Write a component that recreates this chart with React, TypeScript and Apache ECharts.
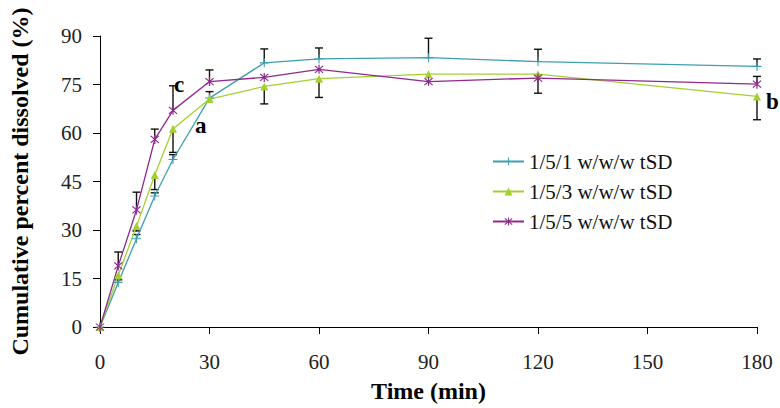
import React, { useEffect, useRef } from "react";
import * as echarts from "echarts";

const times = [0, 5, 10, 15, 20, 30, 45, 60, 90, 120, 180];
const seriesNames = ["1/5/1 w/w/w tSD", "1/5/3 w/w/w tSD", "1/5/5 w/w/w tSD"];
const s1 = [0, 13.8, 27.3, 40.5, 51.8, 70.8, 81.7, 82.9, 83.3, 82.1, 80.6];
const s3 = [0, 16.0, 31.2, 47.0, 61.3, 70.5, 74.4, 76.8, 78.2, 78.2, 71.3];
const s5 = [0, 18.9, 36.2, 58.0, 67.0, 75.9, 77.2, 79.7, 75.9, 77.0, 75.1];
// error bar lengths (plus = drawn upward, minus = drawn downward)
const s1Plus = [0, 0.8, 1.3, 1.0, 1.5, 2.0, 4.3, 3.4, 6.0, 3.8, 2.3];
const s3Minus = [0, 0, 1.5, 4.5, 7.3, 0, 5.4, 5.8, 0, 5.9, 7.2];
const s5Plus = [0, 4.3, 5.5, 3.2, 7.6, 3.6, 0, 0, 0, 0, 2.4];
const xTicks = [0, 30, 60, 90, 120, 150, 180];
const yTicks = [0, 15, 30, 45, 60, 75, 90];

const FONT = '"Liberation Serif", "Times New Roman", serif';
const COLORS = ["#3c9fb0", "#a5cf2f", "#8e2a8e"];

const PLUS_PATH = "path://M0,4.4H10V5.6H0Z M4.4,0H5.6V10H4.4Z";
const TRI_PATH = "triangle";
const STAR_PATH =
  "path://M4.4,0H5.6V10H4.4Z M0.7,1.5L1.5,0.7L9.3,8.5L8.5,9.3Z M8.5,0.7L9.3,1.5L1.5,9.3L0.7,8.5Z";

export default function App() {
  const ref = useRef<HTMLDivElement>(null);
  useEffect(() => {
    if (!ref.current) return;
    document.body.style.margin = "0";
    const chart = echarts.init(ref.current, null, { renderer: "svg" });

    const errData: number[][] = [];
    times.forEach((t, i) => {
      if (s1Plus[i] > 0) errData.push([t, s1[i], s1[i] + s1Plus[i]]);
      if (s3Minus[i] > 0) errData.push([t, s3[i], s3[i] - s3Minus[i]]);
      if (s5Plus[i] > 0) errData.push([t, s5[i], s5[i] + s5Plus[i]]);
    });

    const vals = [s1, s3, s5];
    const symbols = [PLUS_PATH, TRI_PATH, STAR_PATH];
    const sizes = [9, 8, 9];

    const lineSeries = vals.map((v, k) => ({
      type: "line",
      name: seriesNames[k],
      data: times.map((t, i) => [t, v[i]]),
      symbol: symbols[k],
      symbolSize: sizes[k],
      showSymbol: true,
      lineStyle: { color: COLORS[k], width: 1.3 },
      itemStyle: { color: COLORS[k] },
      z: 3,
    }));

    chart.setOption({
      animation: false,
      backgroundColor: "#ffffff",
      grid: { left: 96, right: 23, top: 36, bottom: 80, containLabel: false },
      legend: {
        data: seriesNames,
        orient: "vertical",
        left: 487,
        top: 146,
        itemWidth: 31,
        itemHeight: 10,
        itemGap: 9,
        textStyle: { fontFamily: FONT, fontSize: 21, color: "#111" },
      },
      xAxis: {
        type: "value",
        min: 0,
        max: 180,
        interval: 30,
        name: "Time (min)",
        nameLocation: "middle",
        nameGap: 52,
        nameTextStyle: { fontFamily: FONT, fontSize: 24, fontWeight: "bold", color: "#000" },
        axisLine: { lineStyle: { color: "#000", width: 1 } },
        axisTick: { show: true, inside: false, length: 7, lineStyle: { color: "#000" } },
        axisLabel: {
          margin: 24,
          fontFamily: FONT,
          fontSize: 21,
          color: "#222",
          formatter: (v: number) => (xTicks.includes(v) ? String(v) : ""),
        },
        splitLine: { show: false },
      },
      yAxis: {
        type: "value",
        min: 0,
        max: 90,
        interval: 15,
        name: "Cumulative percent dissolved (%)",
        nameLocation: "middle",
        nameGap: 68,
        nameTextStyle: { fontFamily: FONT, fontSize: 24, fontWeight: "bold", color: "#000" },
        axisLine: { show: true, lineStyle: { color: "#000", width: 1 } },
        axisTick: { show: true, inside: false, length: 7, lineStyle: { color: "#000" } },
        axisLabel: {
          margin: 18,
          fontFamily: FONT,
          fontSize: 21,
          color: "#222",
          formatter: (v: number) => (yTicks.includes(v) ? String(v) : ""),
        },
        splitLine: { show: false },
      },
      series: [
        {
          type: "custom",
          name: "err",
          data: errData,
          encode: { x: 0, y: [1, 2] },
          z: 2,
          silent: true,
          renderItem: (params: any, api: any) => {
            const x = api.value(0);
            const b = api.value(1);
            const e = api.value(2);
            const p0 = api.coord([x, b]);
            const p1 = api.coord([x, e]);
            const hw = 4;
            const st = { stroke: "#111", lineWidth: 1.4 };
            return {
              type: "group",
              children: [
                { type: "line", shape: { x1: p0[0], y1: p0[1], x2: p1[0], y2: p1[1] }, style: st },
                { type: "line", shape: { x1: p1[0] - hw, y1: p1[1], x2: p1[0] + hw, y2: p1[1] }, style: st },
              ],
            };
          },
        },
        ...lineSeries,
      ],
      graphic: [
        { type: "text", left: 174, top: 73, style: { text: "c", font: `bold 23px ${FONT}`, fill: "#000" } },
        { type: "text", left: 195, top: 114, style: { text: "a", font: `bold 23px ${FONT}`, fill: "#000" } },
        { type: "text", left: 766, top: 90, style: { text: "b", font: `bold 23px ${FONT}`, fill: "#000" } },
      ],
    });
    return () => chart.dispose();
  }, []);
  return <div ref={ref} style={{ width: 780, height: 408 }} />;
}
